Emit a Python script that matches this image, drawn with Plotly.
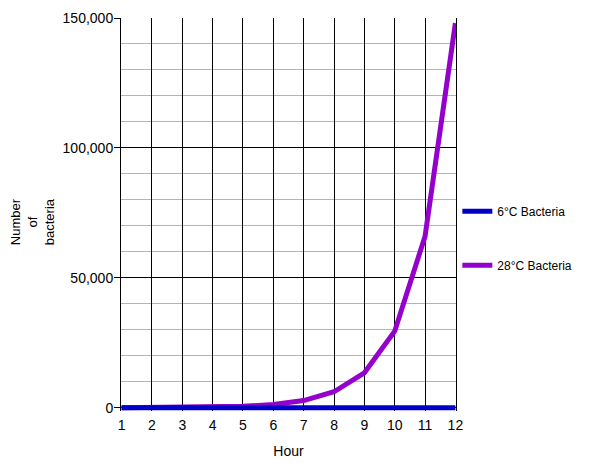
import plotly.graph_objects as go

hours = [1, 2, 3, 4, 5, 6, 7, 8, 9, 10, 11, 12]
bacteria_6c = [10, 12, 14, 16, 18, 20, 23, 26, 29, 32, 36, 40]
bacteria_28c = [25, 60, 130, 280, 600, 1300, 2800, 6200, 13500, 29500, 66000, 148000]
y_ticks = [0, 50000, 100000, 150000]
y_tick_text = ["0", "50,000", "100,000", "150,000"]

FONT = "Liberation Sans, Arial, sans-serif"

fig = go.Figure()
fig.add_trace(go.Scatter(
    x=hours, y=bacteria_28c, mode="lines", name="28°C Bacteria",
    line=dict(color="#9400cc", width=5), legendrank=2, legendgroup="b",
))
fig.add_trace(go.Scatter(
    x=hours, y=bacteria_6c, mode="lines", name="6°C Bacteria",
    line=dict(color="#0000c8", width=5), legendrank=1, legendgroup="a",
))

fig.update_layout(
    width=592, height=455,
    margin=dict(l=113.4, r=144.4, t=10, b=51.9, autoexpand=False),
    paper_bgcolor="white", plot_bgcolor="white",
    font=dict(family=FONT, size=14, color="black"),
    showlegend=True,
    legend=dict(x=1.004, y=0.545, xanchor="left", yanchor="top",
                font=dict(size=12, family=FONT), tracegroupgap=35,
                traceorder="grouped", itemwidth=30, bgcolor="rgba(0,0,0,0)"),
    xaxis=dict(
        range=[0.98, 12.02], tickmode="array", tickvals=hours,
        ticktext=[str(h) for h in hours], automargin=False,
        showgrid=True, gridcolor="black", gridwidth=1,
        zeroline=False, showline=False, ticks="", ticklabelstandoff=4,
        title=dict(text="Hour", font=dict(size=14), standoff=14),
    ),
    yaxis=dict(
        range=[-1200, 150000], tickmode="array", tickvals=y_ticks,
        ticktext=y_tick_text, automargin=False,
        showgrid=True, gridcolor="black", gridwidth=1,
        zeroline=False, showline=True, linecolor="black", linewidth=1, mirror=True,
        ticks="outside", ticklen=6, tickcolor="black", ticklabelstandoff=-2,
        minor=dict(dtick=10000, tick0=0, showgrid=True, gridcolor="#b4b4b4",
                   gridwidth=1, ticks=""),
    ),
    annotations=[dict(
        text="Number<br>of<br>bacteria", xref="paper", yref="paper",
        x=-0.262, y=0.481, xanchor="center", yanchor="middle",
        showarrow=False, textangle=-90,
        font=dict(size=13, family=FONT),
    )],
)

fig.write_html("out.html")
